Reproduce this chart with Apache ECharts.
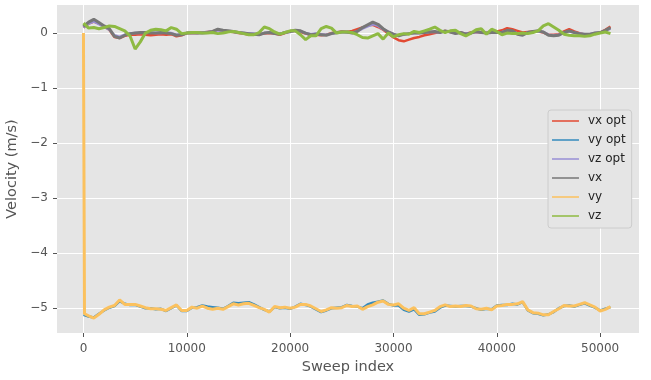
<!DOCTYPE html>
<html>
<head>
  <meta charset="utf-8">
  <title>Velocity</title>
  <script src="https://cdn.jsdelivr.net/npm/echarts@6.0.0/dist/echarts.min.js"></script>
  <style>
    html, body { margin: 0; padding: 0; background: #ffffff; }
    #chart { width: 651px; height: 380px; }
  </style>
</head>
<body>
<div id="chart"></div>
<script>
  // sweep index samples (first two points carry the initial jump)
  var sweep = [0, 100,
    500, 1000, 1500, 2000, 2500, 3000, 3500, 4000, 4500, 5000,
    5500, 6000, 6500, 7000, 7500, 8000, 8500, 9000, 9500, 10000,
    10500, 11000, 11500, 12000, 12500, 13000, 13500, 14000, 14500, 15000,
    15500, 16000, 16500, 17000, 17500, 18000, 18500, 19000, 19500, 20000,
    20500, 21000, 21500, 22000, 22500, 23000, 23500, 24000, 24500, 25000,
    25500, 26000, 26500, 27000, 27500, 28000, 28500, 29000, 29500, 30000,
    30500, 31000, 31500, 32000, 32500, 33000, 33500, 34000, 34500, 35000,
    35500, 36000, 36500, 37000, 37500, 38000, 38500, 39000, 39500, 40000,
    40500, 41000, 41500, 42000, 42500, 43000, 43500, 44000, 44500, 45000,
    45500, 46000, 46500, 47000, 47500, 48000, 48500, 49000, 49500, 50000,
    50500, 51000];

  var vxOpt = [0.10, 0.12,
    0.17, 0.21, 0.17, 0.12, 0.06, -0.07, -0.09, -0.05, -0.03, -0.03,
    -0.02, -0.03, -0.04, -0.03, -0.02, -0.03, -0.02, -0.06, -0.04, 0.00,
    0.00, 0.00, 0.01, 0.02, 0.03, 0.06, 0.04, 0.03, 0.02, 0.00,
    -0.01, -0.03, -0.03, -0.02, -0.01, 0.00, -0.01, -0.03, 0.00, 0.03,
    0.04, 0.02, -0.01, -0.03, -0.03, -0.04, -0.03, 0.00, 0.01, 0.03,
    0.02, 0.04, 0.07, 0.10, 0.14, 0.15, 0.11, 0.06, -0.01, -0.08,
    -0.13, -0.15, -0.12, -0.09, -0.07, -0.04, -0.02, 0.00, 0.02, 0.04,
    0.02, 0.00, 0.01, -0.01, 0.01, 0.02, 0.01, 0.00, 0.02, 0.03,
    0.05, 0.09, 0.07, 0.04, 0.01, 0.02, 0.03, 0.03, 0.01, -0.03,
    -0.03, -0.02, 0.03, 0.07, 0.03, 0.00, -0.03, -0.04, -0.01, 0.01,
    0.06, 0.12];
  var vyOpt = [-5.12, -5.12,
    -5.15, -5.17, -5.10, -5.04, -4.99, -4.96, -4.87, -4.92, -4.94, -4.94,
    -4.97, -5.00, -5.00, -5.02, -5.01, -5.05, -5.00, -4.95, -5.05, -5.05,
    -4.99, -4.98, -4.95, -4.97, -4.98, -4.99, -5.01, -4.96, -4.90, -4.91,
    -4.90, -4.89, -4.93, -4.98, -5.03, -5.06, -4.98, -5.00, -4.99, -5.01,
    -4.97, -4.92, -4.94, -4.97, -5.02, -5.07, -5.04, -5.00, -4.99, -4.98,
    -4.94, -4.96, -4.97, -5.00, -4.93, -4.90, -4.88, -4.86, -4.92, -4.95,
    -4.95, -5.03, -5.06, -5.02, -5.12, -5.11, -5.08, -5.06, -4.99, -4.95,
    -4.96, -4.97, -4.96, -4.96, -4.97, -5.00, -5.03, -5.01, -5.02, -4.95,
    -4.94, -4.94, -4.92, -4.93, -4.89, -5.04, -5.09, -5.10, -5.13, -5.11,
    -5.07, -5.00, -4.96, -4.95, -4.97, -4.94, -4.91, -4.95, -4.99, -5.04,
    -5.01, -4.98];
  var vzOpt = [0.10, 0.12,
    0.17, 0.21, 0.16, 0.11, 0.06, -0.04, -0.07, -0.03, -0.01, 0.00,
    0.00, 0.00, 0.01, 0.00, 0.00, 0.01, 0.00, -0.03, -0.02, 0.00,
    0.01, 0.00, 0.01, 0.02, 0.03, 0.05, 0.04, 0.03, 0.02, 0.01,
    0.00, -0.01, -0.01, -0.02, 0.00, 0.01, 0.00, -0.01, 0.01, 0.02,
    0.04, 0.03, 0.00, -0.02, -0.01, -0.02, -0.03, -0.01, 0.00, 0.02,
    0.01, 0.01, 0.03, 0.08, 0.12, 0.16, 0.13, 0.07, 0.02, -0.02,
    -0.04, -0.03, -0.01, 0.00, 0.00, 0.01, 0.02, 0.02, 0.01, 0.03,
    0.02, 0.00, 0.01, -0.01, 0.00, 0.02, 0.01, 0.00, 0.01, 0.01,
    0.02, 0.04, 0.03, -0.01, -0.03, 0.01, 0.02, 0.03, 0.02, -0.03,
    -0.04, -0.03, 0.01, 0.03, 0.01, -0.01, -0.02, -0.02, 0.00, 0.01,
    0.04, 0.08];
  var vx = [0.12, 0.14,
    0.20, 0.25, 0.19, 0.13, 0.08, -0.06, -0.09, -0.04, -0.01, 0.00,
    0.01, 0.01, 0.00, 0.00, 0.01, 0.00, -0.01, -0.04, -0.03, 0.00,
    0.00, 0.00, 0.00, 0.01, 0.03, 0.07, 0.05, 0.04, 0.03, 0.01,
    0.00, -0.01, -0.02, -0.03, 0.00, 0.01, -0.01, -0.02, 0.01, 0.03,
    0.05, 0.04, 0.00, -0.03, -0.02, -0.03, -0.04, -0.01, 0.01, 0.02,
    0.02, 0.00, 0.03, 0.10, 0.15, 0.20, 0.16, 0.08, 0.02, -0.02,
    -0.05, -0.02, -0.01, 0.00, 0.00, 0.01, 0.02, 0.03, 0.01, 0.04,
    0.02, -0.01, 0.01, -0.02, 0.00, 0.03, 0.01, 0.00, 0.01, 0.01,
    0.01, 0.05, 0.04, -0.02, -0.04, 0.01, 0.03, 0.04, 0.02, -0.04,
    -0.05, -0.04, 0.01, 0.04, 0.01, -0.01, -0.02, -0.02, 0.00, 0.01,
    0.05, 0.10];
  var vy = [0.00, -5.10,
    -5.14, -5.18, -5.11, -5.03, -4.98, -4.95, -4.85, -4.93, -4.93, -4.93,
    -4.96, -4.99, -5.01, -5.01, -5.02, -5.04, -4.99, -4.94, -5.04, -5.04,
    -4.98, -5.00, -4.96, -5.00, -5.02, -5.00, -5.02, -4.97, -4.92, -4.94,
    -4.92, -4.91, -4.95, -4.99, -5.02, -5.07, -4.97, -4.99, -4.98, -5.00,
    -4.98, -4.93, -4.93, -4.96, -5.01, -5.06, -5.03, -4.99, -5.00, -4.99,
    -4.95, -4.97, -4.96, -5.02, -4.97, -4.94, -4.89, -4.87, -4.93, -4.94,
    -4.92, -5.00, -5.04, -4.99, -5.10, -5.10, -5.07, -5.04, -4.97, -4.94,
    -4.97, -4.96, -4.97, -4.95, -4.96, -5.01, -5.02, -5.00, -5.03, -4.96,
    -4.95, -4.93, -4.93, -4.92, -4.88, -5.03, -5.08, -5.09, -5.12, -5.12,
    -5.06, -5.01, -4.95, -4.96, -4.96, -4.93, -4.90, -4.94, -4.98, -5.05,
    -5.02, -4.97];
  var vz = [0.18, 0.15,
    0.09, 0.10, 0.08, 0.10, 0.13, 0.12, 0.08, 0.04, -0.05, -0.29,
    -0.16, 0.00, 0.05, 0.07, 0.06, 0.04, 0.10, 0.07, -0.01, 0.00,
    0.01, 0.01, 0.00, 0.00, 0.01, -0.01, 0.00, 0.02, 0.03, 0.01,
    -0.01, -0.03, -0.03, 0.01, 0.11, 0.08, 0.02, -0.02, 0.01, 0.04,
    0.04, -0.03, -0.12, -0.05, -0.05, 0.08, 0.12, 0.09, 0.00, 0.02,
    0.02, 0.01, -0.03, -0.08, -0.09, -0.05, -0.01, -0.11, 0.00, -0.07,
    -0.03, -0.01, -0.02, 0.03, 0.01, 0.04, 0.07, 0.11, 0.05, 0.01,
    0.04, 0.05, -0.01, -0.05, 0.00, 0.06, 0.08, -0.02, 0.07, 0.03,
    -0.03, 0.00, -0.01, -0.01, 0.00, -0.01, 0.01, 0.04, 0.13, 0.17,
    0.11, 0.05, -0.02, -0.04, -0.05, -0.05, -0.06, -0.05, -0.02, 0.00,
    0.02, -0.01];

  var xTicks = [0, 10000, 20000, 30000, 40000, 50000];
  var yTicks = [-5, -4, -3, -2, -1, 0];

  var names = ['vx opt', 'vy opt', 'vz opt', 'vx', 'vy', 'vz'];
  var colors = ['#E24A33', '#348ABD', '#988ED5', '#777777', '#FBC15E', '#8EBA42'];
  var values = [vxOpt, vyOpt, vzOpt, vx, vy, vz];
  var widths = [2.5, 2.5, 2.5, 3, 3, 3];

  function pairs(arr) {
    return sweep.map(function (x, i) { return [x, arr[i]]; });
  }

  var series = names.map(function (n, i) {
    return {
      name: n,
      type: 'line',
      data: pairs(values[i]),
      symbol: 'none',
      showSymbol: false,
      animation: false,
      color: colors[i],
      lineStyle: { color: colors[i], width: widths[i] }
    };
  });

  // flat line icon, tiny dots keep the box 27x12 so it is not stretched
  var lineIcon = 'path://M0,5.25h27v1.5h-27z M0,0h0.01v0.01h-0.01z M0,12h0.01v0.01h-0.01z';

  var font = 'DejaVu Sans';
  var chart = echarts.init(document.getElementById('chart'), null, { renderer: 'canvas' });
  chart.setOption({
    animation: false,
    textStyle: { fontFamily: font },
    grid: {
      left: 57, right: 12, top: 5, bottom: 47,
      containLabel: false,
      outerBoundsMode: 'none',
      show: true, backgroundColor: '#E5E5E5', borderWidth: 0
    },
    legend: {
      orient: 'vertical',
      left: 548,
      top: 110,
      padding: [5, 6, 6, 4],
      icon: lineIcon,
      itemWidth: 27,
      itemHeight: 12,
      itemGap: 7,
      backgroundColor: '#E5E5E5',
      borderColor: '#CCCCCC',
      borderWidth: 1,
      borderRadius: 3,
      textStyle: { fontFamily: font, fontSize: 12, color: '#222222', padding: [0, 0, 0, 4] },
      data: names
    },
    xAxis: {
      type: 'value',
      min: -2560,
      max: 53760,
      name: 'Sweep index',
      nameLocation: 'middle',
      nameGap: 26,
      nameTextStyle: { fontFamily: font, fontSize: 14.5, color: '#555555' },
      axisLine: { show: false, onZero: false },
      axisTick: { show: true, length: 4, customValues: xTicks, lineStyle: { color: '#555555' } },
      axisLabel: {
        fontFamily: font, fontSize: 12, color: '#555555', margin: 10,
        customValues: xTicks,
        formatter: function (v) { return String(v); }
      },
      splitLine: { show: true, lineStyle: { color: '#FFFFFF', width: 1 } }
    },
    yAxis: {
      type: 'value',
      min: -5.45,
      max: 0.51,
      name: 'Velocity (m/s)',
      nameLocation: 'middle',
      nameGap: 31,
      nameTextStyle: { fontFamily: font, fontSize: 14.5, color: '#555555' },
      axisLine: { show: false, onZero: false },
      axisTick: { show: true, length: 4, customValues: yTicks, lineStyle: { color: '#555555' } },
      axisLabel: {
        fontFamily: font, fontSize: 12, color: '#555555', margin: 9,
        customValues: yTicks,
        formatter: function (v) { return v < 0 ? '\u2212' + Math.abs(v) : String(v); }
      },
      splitLine: { show: true, lineStyle: { color: '#FFFFFF', width: 1 } }
    },
    series: series
  });
</script>
</body>
</html>
